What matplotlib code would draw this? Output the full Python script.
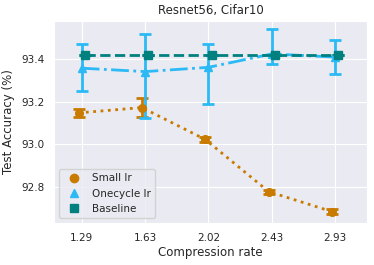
import numpy as np
import matplotlib
matplotlib.use("Agg")
import matplotlib.pyplot as plt
import seaborn as sns

sns.set_style("darkgrid")
plt.rcParams['font.family'] = ['DejaVu Sans']

rates = ["1.29", "1.63", "2.02", "2.43", "2.93"]

small_mean = [93.148, 93.173, 93.023, 92.778, 92.684]
small_lo = [93.130, 93.128, 93.010, 92.768, 92.672]
small_hi = [93.165, 93.217, 93.034, 92.788, 92.696]

one_mean = [93.358, 93.342, 93.362, 93.425, 93.41]
one_lo = [93.25, 93.123, 93.19, 93.38, 93.33]
one_hi = [93.47, 93.52, 93.47, 93.54, 93.49]

base_mean = [93.42, 93.42, 93.42, 93.42, 93.42]

series = [
    ("Small lr", small_mean, small_lo, small_hi, "#c97b00", "o", ":", -0.05),
    ("Onecycle lr", one_mean, one_lo, one_hi, "#2bbaf5", "^", "-.", 0.0),
    ("Baseline", base_mean, base_mean, base_mean, "#00807f", "s", "--", 0.05),
]

fig = plt.figure(figsize=(3.74, 2.65), dpi=100)
ax = fig.add_axes([0.144, 0.158, 0.837, 0.763])

x = np.arange(len(rates))
handles = []
for name, m, lo, hi, c, mk, ls, off in series:
    m = np.array(m)
    err = [m - np.array(lo), np.array(hi) - m]
    ax.errorbar(x + off, m, yerr=err, color=c, ecolor=c, linestyle=ls, lw=2,
                marker=mk, markersize=5.5, capsize=4.5, capthick=2, elinewidth=2)
    h, = ax.plot([], [], linestyle="none", marker=mk, color=c, markersize=6, label=name)
    handles.append(h)

ax.set_xticks(x)
ax.set_xticklabels(rates)
ax.set_xlim(-0.44, 4.5)
ax.set_ylim(92.63, 93.58)
ax.set_yticks([92.8, 93.0, 93.2, 93.4])
ax.tick_params(labelsize=7.5)
ax.set_xlabel("Compression rate", fontsize=8.5, labelpad=2)
ax.set_ylabel("Test Accuracy (%)", fontsize=8.5)
ax.set_title("Resnet56, Cifar10", fontsize=8.5, pad=5)
ax.legend(handles=handles, loc="lower left", fontsize=7.5, handletextpad=0.8)

fig.savefig("out.png", dpi=100)
